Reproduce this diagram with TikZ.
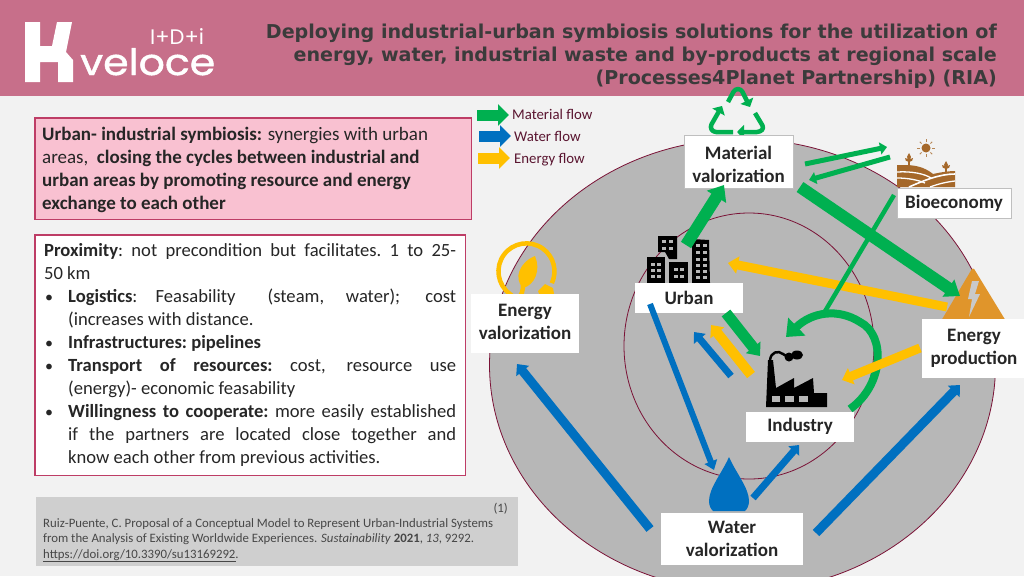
\documentclass[tikz,border=0pt]{standalone}
\usepackage{fontspec}
\usepackage{graphicx}
\usetikzlibrary{arrows.meta}
\setmainfont{Carlito}
\newfontfamily\titlefont{DejaVu Sans}
\newfontfamily\logofont{Poppins}
\newfontfamily\logofontb[FakeBold=1.2]{Poppins}
\definecolor{bgc}{HTML}{F2F2F2}
\definecolor{headc}{HTML}{C76F8A}
\definecolor{ringc}{HTML}{B7B7B7}
\definecolor{maroon}{HTML}{7A1236}
\definecolor{edgec}{HTML}{BE3D66}
\definecolor{pinkc}{HTML}{F9C1D1}
\definecolor{greenc}{HTML}{00B050}
\definecolor{bluec}{HTML}{0070C0}
\definecolor{amberc}{HTML}{FFC000}
\definecolor{txtc}{HTML}{262626}
\definecolor{titlec}{HTML}{3B3B3B}
\definecolor{legc}{HTML}{5A1530}
\definecolor{orangec}{HTML}{E0952B}
\definecolor{brownc}{HTML}{A5682A}
\definecolor{refc}{HTML}{CFCFCF}
\tikzset{
  x=1pt,y=-1pt,
  flow/.style n args={4}{draw=#1,line width=#2,-{Triangle[length=#3,width=#4]}},
  place/.style={fill=white,text=txtc,font=\fontsize{19}{23}\bfseries\selectfont,align=center,inner sep=0pt,minimum width=0pt},
  legend/.style={anchor=west,inner sep=0pt,text=legc,font=\fontsize{14.8}{17}\selectfont},
  ring/.style={draw=maroon,line width=0.8pt,fill=ringc},
  panel/.style={inner sep=0pt,anchor=north west},
  frame/.style={draw=edgec,line width=1.2pt},
}
\newcommand{\jline}[1]{\hbox to 412pt{#1}}
\newcommand{\jbul}[2]{\hbox to 412pt{\hbox to 24pt{\kern1pt#1\hfil}\hbox to 388pt{#2}}}
\begin{document}
\begin{tikzpicture}
\useasboundingbox (0,0) rectangle (1024,576);
\fill[bgc] (0,0) rectangle (1024,576);
\fill[headc] (0,0) rectangle (1024,96);
% logo
\fill[white] (25,22) -- (40,22) -- (40,46) -- (52,46) -- (57,22) -- (72,22) -- (66,52) -- (73,60) -- (73,82) -- (58,82) -- (58,62) -- (40,62) -- (40,82) -- (25,82) -- cycle;
\node[inner sep=0pt,anchor=base west,text=white,font=\logofontb\fontsize{36}{36}\selectfont] (logoa) at (80,75) {\resizebox{135pt}{27pt}{veloce}};
\node[inner sep=0pt,anchor=base west,text=white,font=\logofont\fontsize{21}{21}\selectfont] (logob) at (150,44) {I+D+i};
% title
\node[anchor=north east,inner sep=0pt,align=right,text=titlec,font=\titlefont\fontsize{19.1}{22.7}\bfseries\selectfont] (title) at (997,24) {Deploying industrial-urban symbiosis solutions for the utilization of\\energy, water, industrial waste and by-products at regional scale\\(Processes4Planet Partnership) (RIA)};
% left boxes
\node[panel,fill=white,minimum width=430pt,minimum height=240pt] (prox) at (35,235) {};
\node[panel,fill=pinkc,minimum width=436pt,minimum height=101pt] (sym) at (35,118) {};
\node[anchor=north west,inner sep=0pt,text=txtc,align=left,font=\fontsize{19}{23}\selectfont] (symt) at (42,127) {\textbf{Urban- industrial symbiosis:} synergies with urban\\areas,\ \ \textbf{closing the cycles between industrial and}\\\textbf{urban areas by promoting resource and energy}\\\textbf{exchange to each other}};
\node[anchor=north west,inner sep=0pt,text=txtc,text width=412pt,font=\fontsize{18.6}{23}\selectfont] (proxt) at (44,243) {%
\spaceskip=4.2pt plus 1fil minus 1pt\relax
\xspaceskip=4.2pt plus 1fil minus 1pt\relax
\jline{\textbf{Proximity}: not precondition but facilitates. 1 to 25-}
\jline{50 km\hfill}
\jbul{\fontsize{16}{23}\selectfont •}{\textbf{Logistics}: Feasability \hskip 14pt (steam, water); cost}
\jbul{}{(increases with distance.\hfill}
\jbul{\fontsize{16}{23}\selectfont •}{\textbf{Infrastructures: pipelines}\hfill}
\jbul{\fontsize{16}{23}\selectfont •}{\textbf{Transport of resources:} cost, resource use}
\jbul{}{(energy)- economic feasability\hfill}
\jbul{\fontsize{16}{23}\selectfont •}{\textbf{Willingness to cooperate:} more easily established}
\jbul{}{if the partners are located close together and}
\jbul{}{know each other from previous activities.\hfill}};
\draw[frame] (sym.north west) rectangle (sym.south east);
\draw[frame] (prox.north west) rectangle (prox.south east);
% reference
\fill[refc] (36,497) rectangle (518,566);
\node[anchor=north east,inner sep=0pt,text=txtc!85,font=\fontsize{12.8}{15.5}\selectfont] (refn) at (508,503) {(1)};
\node[anchor=north west,inner sep=0pt,text=txtc!85,align=left,font=\fontsize{12.8}{15.5}\selectfont] (reft) at (43,518) {Ruiz-Puente, C. Proposal of a Conceptual Model to Represent Urban-Industrial Systems\\from the Analysis of Existing Worldwide Experiences. \textit{Sustainability} \textbf{2021}, \textit{13}, 9292.\\https://doi.org/10.3390/su13169292.};
\draw[txtc!85,line width=0.6pt] (43,561.5) -- (236,561.5);
% legend
\coordinate (la1) at (477,115); \coordinate (la2) at (509,115);
\coordinate (lb1) at (479,136); \coordinate (lb2) at (511,136);
\coordinate (lc1) at (478,158); \coordinate (lc2) at (510,158);
\draw[flow={greenc}{11pt}{11pt}{21pt}] (la1) -- (la2);
\draw[flow={bluec}{11pt}{11pt}{21pt}] (lb1) -- (lb2);
\draw[flow={amberc}{11pt}{11pt}{21pt}] (lc1) -- (lc2);
\node[legend] (lt1) at (512,114) {Material flow};
\node[legend] (lt2) at (514,136) {Water flow};
\node[legend] (lt3) at (514,160) {Energy flow};
% rings
\draw[ring] (742.5,365) ellipse [x radius=253, y radius=226];
\draw[ring] (749,346) ellipse [x radius=125, y radius=133];
% recycle icon
\begin{scope}[greenc,line width=4.5pt,line join=round]
\draw[rounded corners=3pt,-{Triangle[length=7pt,width=14pt]}] (728,102) -- (735,89) -- (741,89) -- (750,107);
\draw[rounded corners=3pt,-{Triangle[length=7pt,width=14pt]}] (755,113) -- (764,128) -- (760,132) -- (737,132);
\draw[rounded corners=3pt,-{Triangle[length=7pt,width=14pt]}] (733,132) -- (713,132) -- (710,127) -- (722,106);
\end{scope}
% city icon
\fill[black] (647,257) rectangle (665,283);
\fill[black] (669,262) rectangle (688,283);
\fill[black] (692,239) -- (709,240) -- (710,283) -- (692,283) -- cycle;
\fill[black] (658,236) -- (677,236) -- (677,259) -- (669,259) -- (665,252) -- (658,252) -- cycle;
\foreach \x in {651,657}{\foreach \y in {263,269,275}{\fill[ringc] (\x,\y) rectangle +(3.6,3.4);}}
\foreach \x in {674,680}{\foreach \y in {268,275}{\fill[ringc] (\x,\y) rectangle +(3.6,3.4);}}
\foreach \x in {696,703}{\foreach \y in {244,251,258,264,270,276}{\fill[ringc] (\x,\y) rectangle +(3.6,3.4);}}
\foreach \x in {662,669}{\foreach \y in {240,247}{\fill[ringc] (\x,\y) rectangle +(3.6,3.4);}}
% factory icon
\fill[black] (766,407) -- (768,360) -- (773,360) -- (776,388) -- (794,378) -- (794,388) -- (813,378) -- (814,393) -- (827,393) -- (827,407) -- cycle;
\fill[ringc] (772,396) rectangle (780,402);
\fill[ringc] (785,396) rectangle (794,402);
\fill[ringc] (799,396) rectangle (808,402);
\draw[black,line width=2.5pt] (770,360) .. controls (771,352) and (778,350) .. (783,354) .. controls (785,356) and (788,357) .. (790,356);
\fill[black] (789,357) circle [radius=4.5];
\fill[black] (797,355) ellipse [x radius=6, y radius=4.5];
% water drop
\fill[bluec] (729,457) .. controls (736,473) and (749,488) .. (749,501) .. controls (749,506) and (747,509) .. (745,511) -- (713,511) .. controls (711,509) and (709,506) .. (709,501) .. controls (709,488) and (722,473) .. (729,457) -- cycle;
% energy triangle
\fill[orangec,draw=orangec,line width=3pt,line join=round] (973,270) -- (941,324) -- (1006,324) -- cycle;
\fill[ringc!75!white] (972,281) -- (979,281) -- (975,294) -- (980,294) -- (969,317) -- (972,299) -- (968,299) -- cycle;
% bio icon
\fill[brownc] (897,165) -- (905,165) .. controls (920,165) and (928,170) .. (933,174) .. controls (942,172) and (950,171) .. (955,171) -- (955,187) -- (897,187) -- cycle;
\draw[white,line width=1.3pt] (897,172) .. controls (912,171) and (925,174) .. (931,178);
\draw[white,line width=1.3pt] (897,178) .. controls (908,178) and (918,180) .. (925,183);
\draw[white,line width=1.6pt] (909,187) .. controls (925,180) and (940,174) .. (955,174);
\draw[white,line width=1.3pt] (930,187) .. controls (938,184) and (946,182) .. (955,181);
\fill[brownc] (926,148) circle [radius=4.5];
\foreach \a in {0,45,...,315}{\draw[brownc!80!white,line width=1pt] (926,148) ++(\a:6.3) -- ++(\a:2.5);}
\draw[brownc,line width=1.2pt] (909,165) -- (909,158);
\fill[brownc] (909,153) .. controls (911,155) and (912,158) .. (909,161) .. controls (906,158) and (907,155) .. (909,153) -- cycle;
\fill[brownc] (905,158) .. controls (908,158) and (909,160) .. (909,162) .. controls (906,162) and (905,160) .. (905,158) -- cycle;
\fill[brownc] (913,158) .. controls (910,158) and (909,160) .. (909,162) .. controls (912,162) and (913,160) .. (913,158) -- cycle;
\draw[brownc,line width=1.2pt] (946,172) -- (946,164);
\fill[brownc] (946,161) .. controls (948,163) and (949,166) .. (946,169) .. controls (943,166) and (944,163) .. (946,161) -- cycle;
\fill[brownc] (942,165) .. controls (945,165) and (946,167) .. (946,169) .. controls (943,169) and (942,167) .. (942,165) -- cycle;
\fill[brownc] (950,165) .. controls (947,165) and (946,167) .. (946,169) .. controls (949,169) and (950,167) .. (950,165) -- cycle;
% energy valorization icon
\draw[amberc,line width=4.5pt] (523,285) .. controls (523,297) and (517,301) .. (510,294) arc [start angle=126,end angle=385,radius=28];
\fill[amberc] (535,256) .. controls (520,262) and (513,278) .. (523,288) .. controls (535,285) and (541,270) .. (535,256) -- cycle;
\fill[amberc] (538,291) -- (545,284) -- (553,288) -- (554,294) -- (558,298) -- (555,300) -- (552,297) -- (550,301) -- (553,303) -- (550,305) -- (546,300) -- (541,299) -- cycle;
% nodes
\node[place,draw=gray!50,line width=0.8pt,minimum width=109pt,minimum height=53pt] (mat) at (738.5,161.5) {\rule{0pt}{19pt}Material\\valorization};
\node[place,draw=gray!50,line width=0.8pt,minimum width=114pt,minimum height=30pt] (bio) at (954,203.5) {Bioeconomy};
\node[place,minimum width=108pt,minimum height=30pt] (urb) at (689,298) {Urban};
\node[place,minimum width=108pt,minimum height=59pt,execute at end node={\rule[-4pt]{0pt}{0pt}}] (eva) at (525,323.5) {Energy\\valorization};
\node[place,minimum width=104pt,minimum height=59pt] (epr) at (974,348.5) {Energy\\production};
\node[place,minimum width=108pt,minimum height=30pt] (ind) at (800,426.5) {Industry};
\node[place,minimum width=142pt,minimum height=52pt] (wat) at (732,539) {Water\\valorization};
% flow ends
\coordinate (a1) at (686,245); \coordinate (a2) at (724,185);
\coordinate (b1) at (805,164); \coordinate (b2) at (887,147);
\coordinate (c1) at (890,157); \coordinate (c2) at (809,180);
\coordinate (d1) at (800,187); \coordinate (d2) at (960,296);
\coordinate (e1) at (894,195); \coordinate (e2) at (824,313);
\coordinate (f1) at (850,409); \coordinate (f2) at (786,337);
\coordinate (g1) at (947,307); \coordinate (g2) at (728,263);
\coordinate (h1) at (920,348); \coordinate (h2) at (842,380);
\coordinate (i1) at (726,313); \coordinate (i2) at (760,356);
\coordinate (j1) at (751,375); \coordinate (j2) at (711,325);
\coordinate (k1) at (731,376); \coordinate (k2) at (694,332);
\coordinate (l1) at (650,304); \coordinate (l2) at (714,470);
\coordinate (m1) at (753,498); \coordinate (m2) at (799,445);
\coordinate (n1) at (650,529); \coordinate (n2) at (517,364);
\coordinate (o1) at (816,533); \coordinate (o2) at (960,385);
\draw[flow={greenc}{12pt}{14pt}{22pt}] (a1) -- (a2);
\draw[flow={greenc}{5pt}{7pt}{12pt}] (b1) -- (b2);
\draw[flow={greenc}{5pt}{7pt}{12pt}] (c1) -- (c2);
\draw[flow={amberc}{9pt}{10pt}{17pt}] (g1) -- (g2);
\draw[flow={greenc}{12pt}{14pt}{20pt}] (d1) -- (d2);
\draw[greenc,line width=4.5pt] (e1) -- (e2);
\draw[flow={greenc}{8pt}{15pt}{24pt}] (f1) .. controls (884,385) and (886,335) .. (860,322) .. controls (838,308) and (812,312) .. (f2);
\draw[flow={amberc}{9pt}{10pt}{17pt}] (h1) -- (h2);
\draw[flow={greenc}{11pt}{11pt}{18pt}] (i1) -- (i2);
\draw[flow={amberc}{10pt}{10pt}{17pt}] (j1) -- (j2);
\draw[flow={bluec}{7pt}{9pt}{15pt}] (k1) -- (k2);
\draw[flow={bluec}{6pt}{9pt}{13pt}] (l1) -- (l2);
\draw[flow={bluec}{7pt}{8pt}{14pt}] (m1) -- (m2);
\draw[flow={bluec}{9pt}{9pt}{16pt}] (n1) -- (n2);
\draw[flow={bluec}{9pt}{9pt}{16pt}] (o1) -- (o2);
\end{tikzpicture}
\end{document}
